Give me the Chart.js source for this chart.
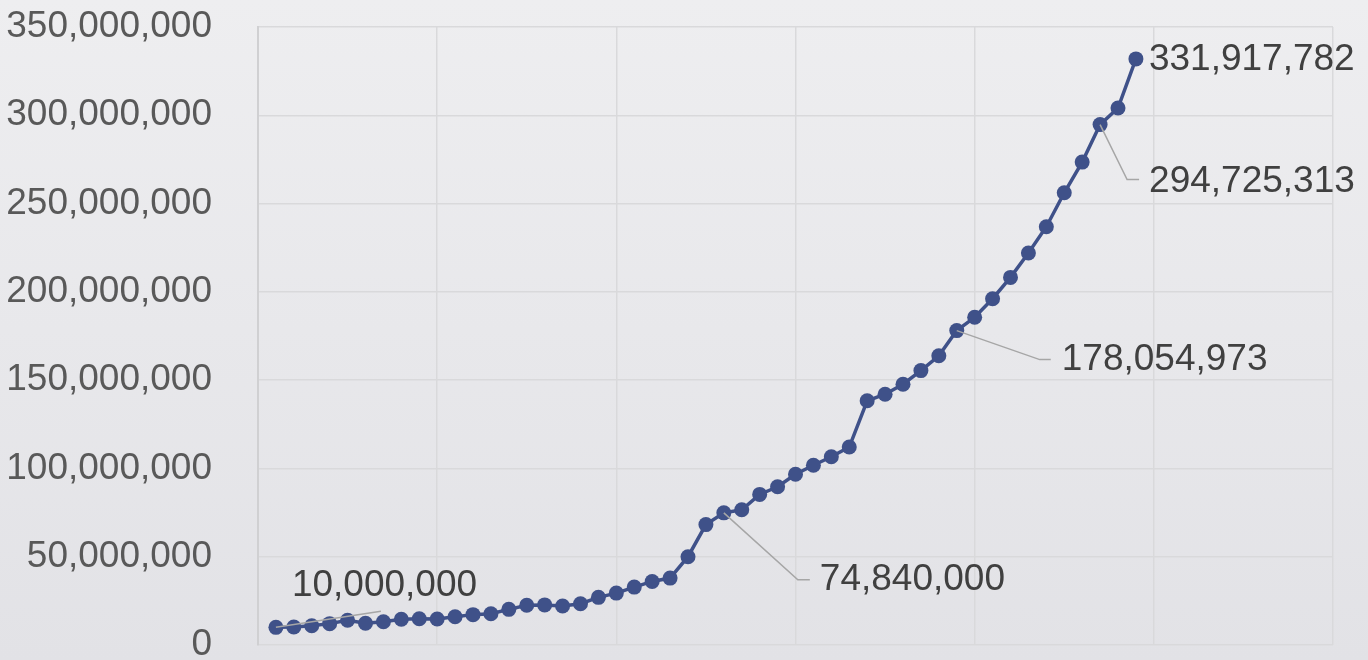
<!DOCTYPE html>
<html>
<head>
<meta charset="utf-8">
<script src="https://cdn.jsdelivr.net/npm/chart.js@4"></script>
<style>
  html, body { margin: 0; padding: 0; }
  body { width: 1368px; height: 660px; background: linear-gradient(#eeeef0, #e2e2e6); overflow: hidden; }
  #wrap { width: 1368px; height: 660px; }
</style>
</head>
<body>
<div id="wrap"><canvas id="lineChart"></canvas></div>
<script>
// periods along the x axis (axis runs 0..60, no labels shown)
const periods = [
  1, 2, 3, 4, 5, 6, 7, 8, 9, 10,
  11, 12, 13, 14, 15, 16, 17, 18, 19, 20,
  21, 22, 23, 24, 25, 26, 27, 28, 29, 30,
  31, 32, 33, 34, 35, 36, 37, 38, 39, 40,
  41, 42, 43, 44, 45, 46, 47, 48, 49
];
const values = [
  10000000, 10200000, 10900000, 12100000, 14000000, 12300000, 13200000, 14600000, 14900000, 14700000,
  16000000, 17200000, 17700000, 20200000, 22500000, 22700000, 22100000, 23400000, 27000000, 29400000,
  32800000, 36000000, 37900000, 50000000, 68200000, 74840000, 76600000, 85300000, 89600000, 96700000,
  101800000, 106600000, 112100000, 138300000, 142000000, 147700000, 155400000, 163800000, 178054973, 185600000,
  196100000, 208200000, 222000000, 236900000, 256100000, 273500000, 294725313, 304100000, 331917782
];
const yTicks = [0, 50000000, 100000000, 150000000, 200000000, 250000000, 300000000, 350000000];
const labelledPoints = [0, 25, 38, 46, 48];

const fontFamily = '"Liberation Sans", Arial, sans-serif';

// callout layout for each labelled point: elbow offset, text offset
const callouts = {
  0:  { line: [[105, -16]], text: [16, -42] },
  25: { line: [[74, 67], [86, 67]], text: [96, 67] },
  38: { line: [[83, 29], [94, 29]], text: [105, 29] },
  46: { line: [[27, 55], [39, 55]], text: [49, 57] },
  48: { line: null, text: [13, 1] }
};

const calloutPlugin = {
  id: 'callouts',
  afterDatasetsDraw(chart) {
    const ctx = chart.ctx;
    const meta = chart.getDatasetMeta(0);
    ctx.save();
    labelledPoints.forEach(i => {
      const pt = meta.data[i];
      const c = callouts[i];
      if (c.line) {
        ctx.beginPath();
        ctx.strokeStyle = '#a6a6a6';
        ctx.lineWidth = 1.5;
        ctx.moveTo(pt.x, pt.y);
        c.line.forEach(p => ctx.lineTo(pt.x + p[0], pt.y + p[1]));
        ctx.stroke();
      }
      ctx.fillStyle = '#404040';
      ctx.font = '37px ' + fontFamily;
      ctx.textAlign = 'left';
      ctx.textBaseline = 'middle';
      ctx.fillText(values[i].toLocaleString('en-US'), pt.x + c.text[0], pt.y + c.text[1]);
    });
    ctx.restore();
  }
};

const lineChart = document.getElementById('lineChart');
new Chart(lineChart, {
  type: 'line',
  data: {
    datasets: [{
      data: periods.map((p, i) => ({ x: p, y: values[i] })),
      borderColor: '#3f5189',
      backgroundColor: '#3f5189',
      borderWidth: 3.5,
      pointRadius: 7.5,
      pointBorderWidth: 0,
      fill: false,
      tension: 0
    }]
  },
  options: {
    responsive: true,
    maintainAspectRatio: false,
    animation: false,
    layout: { padding: { top: 27, right: 35, bottom: 0, left: 0 } },
    plugins: {
      legend: { display: false },
      tooltip: { enabled: false }
    },
    scales: {
      x: {
        type: 'linear',
        min: 0,
        max: 60,
        ticks: { display: false, stepSize: 10 },
        grid: { color: '#d9d9db', lineWidth: 1.5, drawTicks: false },
        border: { display: false },
        afterFit(scale) { scale.height = 15; scale.paddingLeft = 0; scale.paddingRight = 0; }
      },
      y: {
        min: 0,
        max: 350000000,
        afterBuildTicks(scale) { scale.ticks = yTicks.map(v => ({ value: v })); },
        ticks: {
          padding: 46,
          color: '#595959',
          font: { family: fontFamily, size: 37 },
          callback: v => v.toLocaleString('en-US')
        },
        grid: { color: '#d9d9db', lineWidth: 1.5, drawTicks: false },
        border: { color: '#d0d0d2', width: 2 },
        afterFit(scale) { scale.width = 258; scale.paddingTop = 0; scale.paddingBottom = 0; }
      }
    }
  },
  plugins: [calloutPlugin]
});
</script>
</body>
</html>
